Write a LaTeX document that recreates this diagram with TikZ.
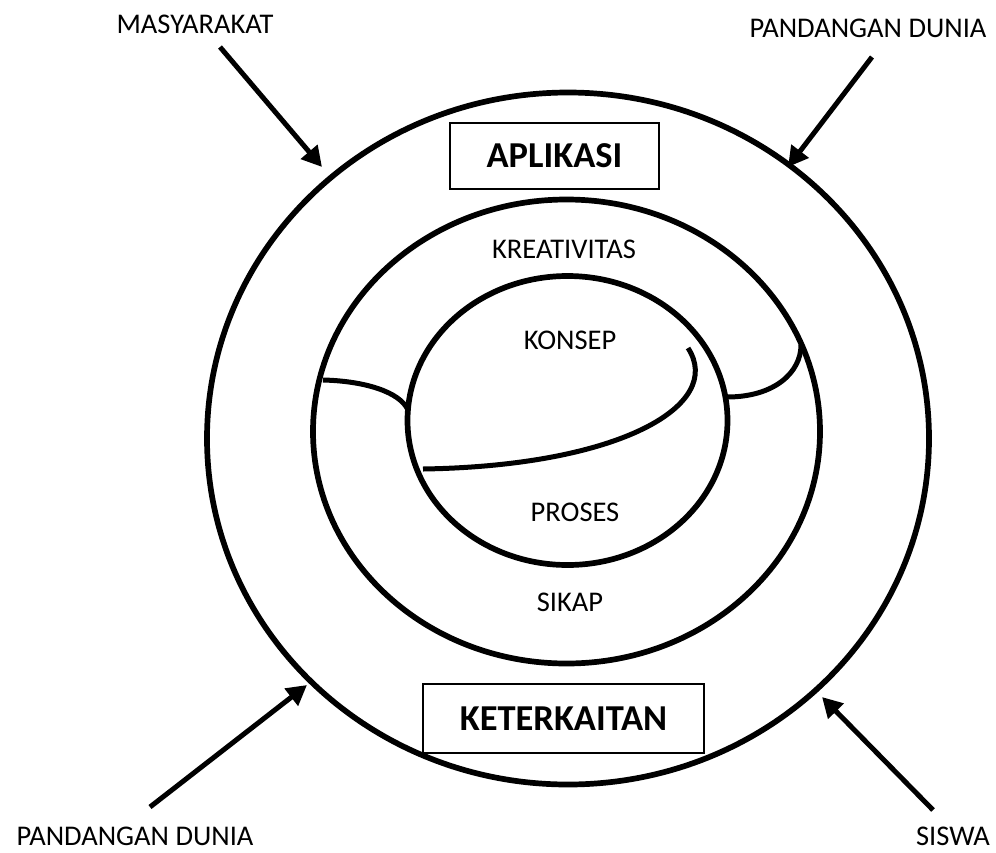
\documentclass[tikz,border=0pt]{standalone}
\usepackage{fontspec}
\setmainfont{Carlito}
\usetikzlibrary{arrows.meta}
\begin{document}
\begin{tikzpicture}[x=1pt,y=-1pt,
  ring/.style={line width=5.7pt},
  link/.style={line width=5pt},
  pointer/.style={line width=5pt,-{Triangle[length=20pt,width=21pt]}},
  lbl/.style={inner sep=0pt,font=\fontsize{28.5}{34}\selectfont},
  titlebox/.style={draw,line width=1.5pt,inner sep=0pt,font=\fontsize{36.5}{44}\selectfont\bfseries}]
\useasboundingbox (0,0) rectangle (996,852);
% rings
\coordinate (co) at (568,438.5);
\coordinate (cm) at (566.5,431.5);
\coordinate (ci) at (567.5,420.5);
\draw[ring] (co) ellipse [x radius=361pt, y radius=346pt];
\draw[ring] (cm) ellipse [x radius=253.5pt, y radius=232pt];
\draw[ring] (ci) ellipse [x radius=160pt, y radius=144.5pt];
% dividing curves
\coordinate (la) at (323,380);
\coordinate (lb) at (408,410);
\coordinate (ma) at (423,469);
\coordinate (mb) at (688,348);
\coordinate (ra) at (727,397);
\coordinate (rb) at (801,345);
\draw[link] (la) .. controls (365,381) and (400,392) .. (lb);
\draw[link] (ma) .. controls (620,466) and (725,405) .. (mb);
\draw[link] (ra) .. controls (775,397) and (801,372) .. (rb);
% boxes
\node[titlebox, minimum width=209pt, minimum height=66pt] (apl) at (554.5,156) {APLIKASI};
\node[titlebox, minimum width=281pt, minimum height=69pt] (ket) at (563.5,718.5) {KETERKAITAN};
% inner labels
\node[lbl] (kre) at (564,249) {KREATIVITAS};
\node[lbl] (kon) at (570,340) {KONSEP};
\node[lbl] (pro) at (575,512) {PROSES};
\node[lbl] (sik) at (570,602) {SIKAP};
% outer labels
\node[lbl] (mas) at (195,24) {MASYARAKAT};
\node[lbl] (pd1) at (868,28) {PANDANGAN DUNIA};
\node[lbl] (pd2) at (135,836) {PANDANGAN DUNIA};
\node[lbl] (sis) at (953,836) {SISWA};
% arrows
\coordinate (a1s) at (220,47);  \coordinate (a1e) at (322,167);
\coordinate (a2s) at (872,57);  \coordinate (a2e) at (788,167);
\coordinate (a3s) at (150,807); \coordinate (a3e) at (307,685);
\coordinate (a4s) at (933,810); \coordinate (a4e) at (822,697);
\draw[pointer] (a1s) -- (a1e);
\draw[pointer] (a2s) -- (a2e);
\draw[pointer] (a3s) -- (a3e);
\draw[pointer] (a4s) -- (a4e);
\end{tikzpicture}
\end{document}
